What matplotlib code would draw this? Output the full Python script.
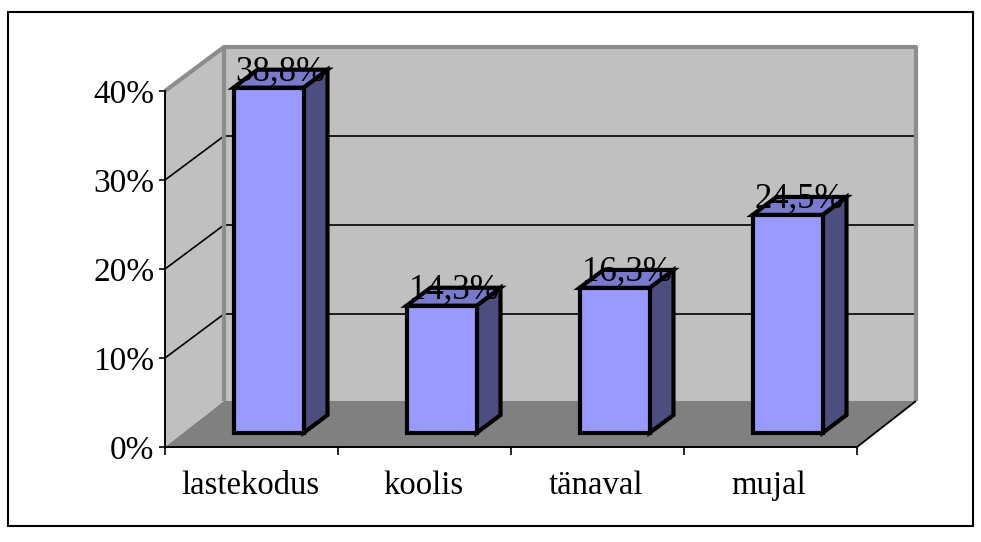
import matplotlib
matplotlib.use("Agg")
import matplotlib.pyplot as plt
from matplotlib.patches import Polygon, Rectangle

categories = ["lastekodus", "koolis", "tänaval", "mujal"]
values = [38.8, 14.3, 16.3, 24.5]
labels = ["38,8%", "14,3%", "16,3%", "24,5%"]
y_ticks = [0, 10, 20, 30, 40]
y_tick_labels = ["0%", "10%", "20%", "30%", "40%"]

W, H = 981, 542
L, R, T, B = 165, 857, 91, 447
plt.rcParams["font.family"] = ["Liberation Serif", "DejaVu Serif"]

fig = plt.figure(figsize=(W / 100, H / 100), dpi=100, facecolor="white")
fig.add_artist(Rectangle((8 / W, 1 - 526 / H), 965 / W, 514 / H, transform=fig.transFigure,
                         fc="white", ec="black", lw=1.5, zorder=-1))
ax = fig.add_axes([L / W, 1 - B / H, (R - L) / W, (B - T) / H])
ax.patch.set_alpha(0)
ax.set_xlim(0, len(categories))
ax.set_ylim(0, 40)

px = len(categories) / (R - L)   # data units per pixel, x
py = 40 / (B - T)                # data units per pixel, y
wall_dx, wall_dy = 59 * px, 46 * py
wall_dy_top = 44 * py
n = len(categories)
top = y_ticks[-1]

def poly(pts, **kw):
    p = Polygon(pts, closed=True, clip_on=False, **kw)
    ax.add_patch(p)
    return p

def line(xs, ys, **kw):
    ax.plot(xs, ys, clip_on=False, solid_capstyle="butt", **kw)

# walls and floor
poly([(wall_dx, wall_dy), (n + wall_dx, wall_dy), (n + wall_dx, top + wall_dy_top), (wall_dx, top + wall_dy_top)],
     fc="#c0c0c0", ec="none", zorder=1)
poly([(0, 0), (wall_dx, wall_dy), (wall_dx, top + wall_dy_top), (0, top)], fc="#c0c0c0", ec="none", zorder=1)
poly([(0, 0), (n, 0), (n + wall_dx, wall_dy), (wall_dx, wall_dy)], fc="#808080", ec="none", zorder=1.5)

# grid lines
for t in y_ticks[1:-1]:
    line([0, wall_dx, n + wall_dx], [t, t + wall_dy_top, t + wall_dy_top], color="black", lw=1.2, zorder=2)

# wall frame
wall_col = "#8c8c8c"
line([0, wall_dx, n + wall_dx, n + wall_dx], [top, top + wall_dy_top, top + wall_dy_top, wall_dy],
     color=wall_col, lw=3, zorder=2.2)
line([wall_dx, wall_dx], [wall_dy, top + wall_dy_top], color=wall_col, lw=3, zorder=2.2)
line([n, n + wall_dx], [0, wall_dy], color="black", lw=1.3, zorder=2.5)

# bars
bar_w = 70 * px
dx, dy = 24 * px, 18 * py
off_x, off_y = 17 * px, 14 * py
for i, v in enumerate(values):
    x0 = i + (1 - bar_w) / 2 + off_x
    x1 = x0 + bar_w
    y0, y1 = off_y, off_y + v
    style = dict(ec="black", lw=3, joinstyle="miter", zorder=3)
    poly([(x1, y0), (x1 + dx, y0 + dy), (x1 + dx, y1 + dy), (x1, y1)], fc="#4d4d80", **style)
    poly([(x0, y1), (x1, y1), (x1 + dx, y1 + dy), (x0 + dx, y1 + dy)], fc="#7a7acc", **style)
    poly([(x0, y0), (x1, y0), (x1, y1), (x0, y1)], fc="#9999ff", **style)
    ax.text((x0 + x1 + dx) / 2, y1 + 7 * py, labels[i], ha="center", va="baseline",
            fontsize=25, color="black", zorder=5, clip_on=False)

# axes
for s in ("top", "right"):
    ax.spines[s].set_visible(False)
for s in ("left", "bottom"):
    ax.spines[s].set_linewidth(1.4)
    ax.spines[s].set_zorder(4)
ax.set_yticks(y_ticks, y_tick_labels, fontsize=24)
ax.tick_params(axis="y", length=4.5, width=1.2, pad=3)
ax.set_xticks(range(n + 1), [""] * (n + 1))
ax.tick_params(axis="x", which="major", length=5.5, width=1.2)
ax.set_xticks([i + 0.5 - 1.5 * px for i in range(n)], categories, minor=True, fontsize=23.6)
ax.tick_params(axis="x", which="minor", length=0, pad=17)

fig.savefig("out.png", dpi=100, facecolor="white")
